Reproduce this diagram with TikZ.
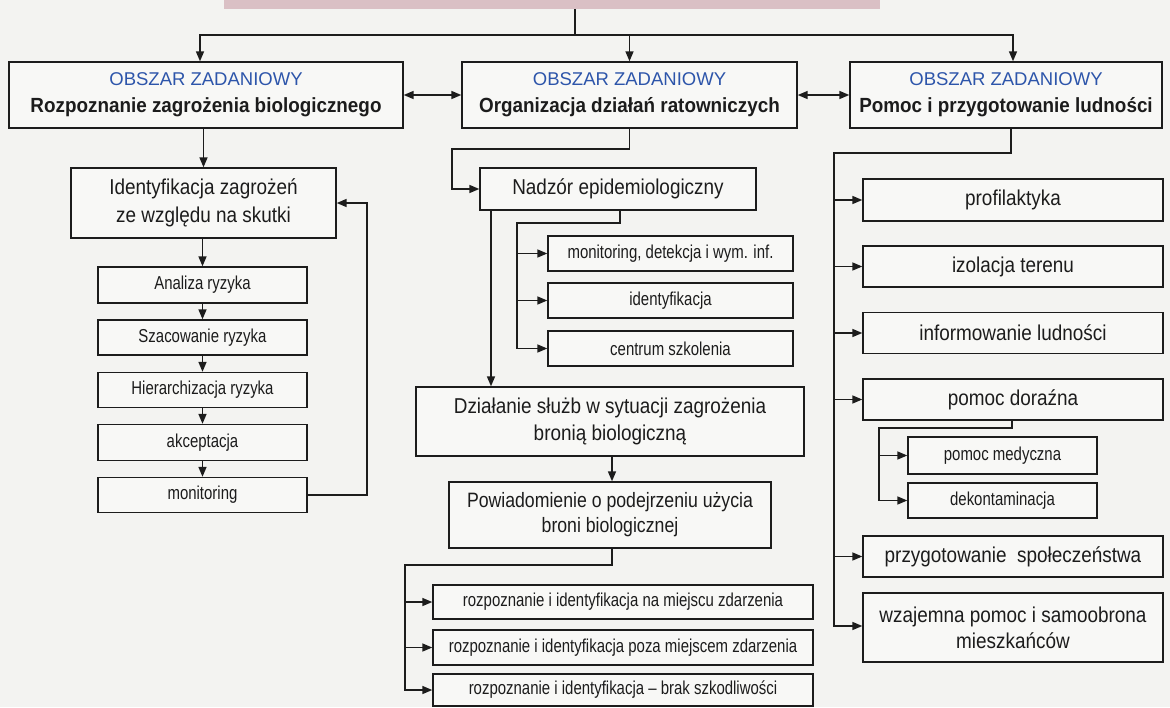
\documentclass[tikz,border=0pt]{standalone}
\usepackage{fontspec}
\setmainfont{Liberation Sans}
\newfontfamily\narrowfont[Ligatures=TeX,FakeStretch=0.88]{Liberation Sans}
\newfontfamily\slimfont[Ligatures=TeX,FakeStretch=0.8]{Liberation Sans}
\newfontfamily\midfont[Ligatures=TeX,FakeStretch=0.85]{Liberation Sans}
\newfontfamily\semifont[Ligatures=TeX,FakeStretch=0.92]{Liberation Sans}
\usetikzlibrary{arrows.meta}

\definecolor{pagebg}{RGB}{243,243,241}
\definecolor{boxbg}{RGB}{248,248,246}
\definecolor{ink}{RGB}{28,28,28}
\definecolor{areablue}{RGB}{45,85,170}
\definecolor{titlepink}{RGB}{218,192,197}

% text sizes (1pt = 1px of the drawing)
\newcommand{\areahead}{\fontsize{18.5}{27}\selectfont\color{areablue}}
\newcommand{\areatitle}{\semifont\fontsize{20.5}{27}\selectfont\bfseries}
\newcommand{\bigtxt}{\narrowfont\fontsize{21.5}{28}\selectfont}
\newcommand{\medtxt}{\midfont\fontsize{20.8}{25}\selectfont}
\newcommand{\smalltxt}{\slimfont\fontsize{18.7}{20}\selectfont}

\begin{document}
\begin{tikzpicture}[x=1pt,y=-1pt,
  pbox/.style={draw=ink, line width=1.4pt, fill=boxbg, inner sep=0pt,
               align=center, text=ink},
  areabox/.style={pbox, minimum height=66, font=\fontsize{19}{27}\selectfont},
  bigbox/.style={pbox, font=\bigtxt},
  smallbox/.style={pbox, font=\smalltxt},
  conn/.style={draw=ink, line width=1.6pt},
  arr/.style={conn, -{Triangle[length=10pt,width=8pt]}},
  dbl/.style={conn, {Triangle[length=10pt,width=8pt]}-{Triangle[length=10pt,width=8pt]}},
]
\useasboundingbox (0,0) rectangle (1170,707);
\fill[pagebg] (0,0) rectangle (1170,707);

% title bar at the top
\node[fill=titlepink, minimum width=656, minimum height=20, inner sep=0pt] (T) at (552,-1) {};

% three task areas
\node[areabox, minimum width=394] (L) at (206,95)
  {{\areahead OBSZAR ZADANIOWY}\\{\areatitle Rozpoznanie zagrożenia biologicznego}};
\node[areabox, minimum width=335] (M) at (629.5,95)
  {{\areahead OBSZAR ZADANIOWY}\\{\areatitle Organizacja działań ratowniczych}};
\node[areabox, minimum width=312] (R) at (1006,95)
  {{\areahead OBSZAR ZADANIOWY}\\{\areatitle Pomoc i przygotowanie ludności}};

% left column: risk chain
\node[pbox, minimum width=265, minimum height=70, font=\narrowfont\fontsize{21.5}{28}\selectfont] (I) at (203.5,203)
  {Identyfikacja zagrożeń\\ze względu na skutki};
\node[smallbox, minimum width=209, minimum height=36] (A)  at (202.5,285)   {Analiza ryzyka};
\node[smallbox, minimum width=209, minimum height=35] (S)  at (202.5,337.5) {Szacowanie ryzyka};
\node[smallbox, minimum width=209, minimum height=35] (H)  at (202.5,390)   {Hierarchizacja ryzyka};
\node[smallbox, minimum width=209, minimum height=36] (Ak) at (202.5,442.5) {akceptacja};
\node[smallbox, minimum width=209, minimum height=35] (Mo) at (202.5,495)   {monitoring};

% middle column
\node[bigbox, minimum width=276, minimum height=42] (N) at (618,189) {Nadzór epidemiologiczny};
\node[smallbox, minimum width=245, minimum height=35] (m1) at (670.5,253.5) {monitoring, detekcja i wym. inf.};
\node[smallbox, minimum width=245, minimum height=35] (m2) at (670.5,300.5) {identyfikacja};
\node[smallbox, minimum width=245, minimum height=35] (m3) at (670.5,348.5) {centrum szkolenia};
\node[pbox, minimum width=388, minimum height=69, font=\narrowfont\fontsize{21.5}{27}\selectfont] (D) at (610,421.5)
  {Działanie służb w sytuacji zagrożenia\\bronią biologiczną};
\node[pbox, minimum width=322, minimum height=66, font=\medtxt] (P) at (610,515)
  {Powiadomienie o podejrzeniu użycia\\broni biologicznej};
\node[smallbox, minimum width=380, minimum height=34] (r1) at (623,602)
  {rozpoznanie i identyfikacja na miejscu zdarzenia};
\node[smallbox, minimum width=380, minimum height=35] (r2) at (623,647.5)
  {rozpoznanie i identyfikacja poza miejscem zdarzenia};
\node[smallbox, minimum width=380, minimum height=32] (r3) at (623,690)
  {rozpoznanie i identyfikacja – brak szkodliwości};

% right column
\node[bigbox, minimum width=300, minimum height=42] (p1) at (1013,200)   {profilaktyka};
\node[bigbox, minimum width=300, minimum height=41] (p2) at (1013,266.5) {izolacja terenu};
\node[bigbox, minimum width=300, minimum height=41] (p3) at (1013,333)   {informowanie ludności};
\node[bigbox, minimum width=300, minimum height=41] (p4) at (1013,399.5) {pomoc doraźna};
\node[smallbox, minimum width=189, minimum height=37] (q1) at (1002.5,455.5) {pomoc medyczna};
\node[smallbox, minimum width=189, minimum height=35] (q2) at (1002.5,500.5) {dekontaminacja};
\node[bigbox, minimum width=300, minimum height=41] (p5) at (1013,556.5) {przygotowanie\ \ społeczeństwa};
\node[pbox, minimum width=300, minimum height=69, font=\narrowfont\fontsize{21.5}{26}\selectfont] (p6) at (1013,627.5)
  {wzajemna pomoc i samoobrona\\mieszkańców};

% junction points of the connectors
\coordinate (bus) at (575,35);
\coordinate (fb)  at (367,350);
\coordinate (mA)  at (452,149);
\coordinate (nB)  at (517,223);
\coordinate (nDx) at (491,300);
\coordinate (pB)  at (405,565);
\coordinate (rB)  at (834,153);
\coordinate (dB)  at (879,428);

% distribution from the title bar
\draw[conn] (T.south -| bus) -- (bus);
\draw[arr] (bus) -| ([xshift=-6]L.north);
\draw[arr] (bus) -| ([xshift=7]R.north);
\draw[arr] (M.north |- bus) -- (M.north);

% links between the task areas
\draw[dbl] (L.east) -- (M.west);
\draw[dbl] (M.east) -- (R.west);

% left column
\draw[arr] (L.south -| I.north) -- (I.north);
\draw[arr] (A.north |- I.south) -- (A.north);
\draw[arr] (A.south) -- (S.north);
\draw[arr] (S.south) -- (H.north);
\draw[arr] (H.south) -- (Ak.north);
\draw[arr] (Ak.south) -- (Mo.north);
\draw[arr] (Mo.east) -| (fb) |- (I.east);

% middle column
\draw[arr] (M.south) |- (mA) |- (N.west);
\draw[arr] ([xshift=2]N.south) |- (nB) |- (m1.west);
\draw[arr] (nB) |- (m2.west);
\draw[arr] (nB) |- (m3.west);
\draw[arr] (N.south -| nDx) -- (D.north -| nDx);
\draw[arr] ([xshift=2]D.south) -- ([xshift=2]P.north);
\draw[arr] ([xshift=2]P.south) |- (pB) |- (r1.west);
\draw[arr] (pB) |- (r2.west);
\draw[arr] (pB) |- (r3.west);

% right column
\draw[arr] ([xshift=5]R.south) |- (rB) |- (p1.west);
\draw[arr] (rB) |- (p2.west);
\draw[arr] (rB) |- (p3.west);
\draw[arr] (rB) |- (p4.west);
\draw[arr] (rB) |- (p5.west);
\draw[arr] (rB) |- ([yshift=1.5]p6.west);
\draw[arr] ([xshift=-1]p4.south) |- (dB) |- (q1.west);
\draw[arr] (dB) |- (q2.west);
\end{tikzpicture}
\end{document}
